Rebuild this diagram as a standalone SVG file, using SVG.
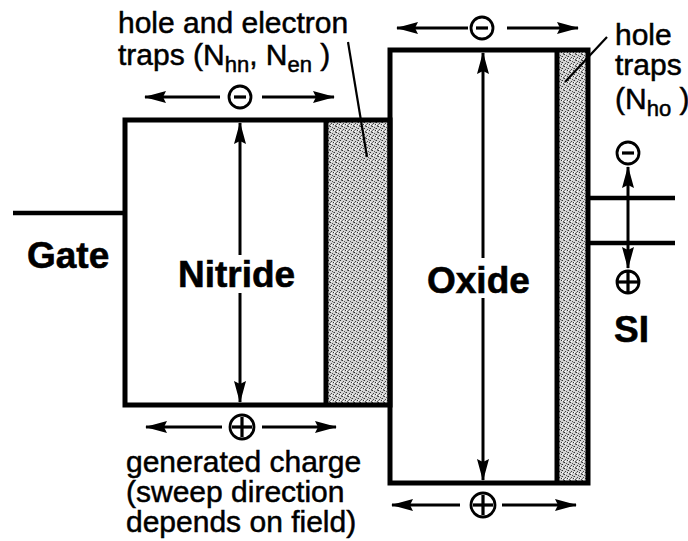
<svg xmlns="http://www.w3.org/2000/svg" width="688" height="541" viewBox="0 0 688 541">
<style>
.box{fill:none;stroke:#000;stroke-width:5}
.wire{stroke:#000;stroke-width:4.5;fill:none}
.arr{stroke:#000;stroke-width:3;fill:none}
.lead{stroke:#000;stroke-width:2.2;fill:none}
.chg{fill:#fff;stroke:#000;stroke-width:2.8}
.sign{stroke:#000;stroke-width:3.2}
.lbl{font-family:"Liberation Sans",Arial,sans-serif;font-size:30px;fill:#000;stroke:#000;stroke-width:0.5}
.name{font-family:"Liberation Sans",Arial,sans-serif;font-size:37px;font-weight:bold;fill:#000;stroke:#000;stroke-width:0.6}
.sub{font-size:22px}
</style>
<defs>
<pattern id="stip" width="6" height="6" patternUnits="userSpaceOnUse">
<rect width="6" height="6" fill="#d4d4d4"/>
<rect x="0" y="0" width="1" height="1" fill="#333"/>
<rect x="2" y="1" width="1" height="1" fill="#555"/>
<rect x="4" y="2" width="1" height="1" fill="#333"/>
<rect x="1" y="3" width="1" height="1" fill="#444"/>
<rect x="3" y="4" width="1" height="1" fill="#333"/>
<rect x="5" y="5" width="1" height="1" fill="#555"/>
<rect x="5" y="0" width="1" height="1" fill="#777"/>
<rect x="0" y="4" width="1" height="1" fill="#777"/>
<rect x="3" y="2" width="1" height="1" fill="#888"/>
<rect x="1" y="5" width="1" height="1" fill="#fff"/>
<rect x="4" y="4" width="1" height="1" fill="#fff"/>
</pattern>
<marker id="ah" viewBox="0 0 22 13" refX="21" refY="6.5" markerWidth="22" markerHeight="13" markerUnits="userSpaceOnUse" orient="auto-start-reverse">
<path d="M0,0.5 L22,6.5 L0,12.5 L3,6.5 Z" fill="#000"/>
</marker>
</defs>
<rect width="688" height="541" fill="#fff"/>

<g id="gate">
<line class="wire" x1="13" y1="213" x2="125" y2="213"/>
<text class="name" x="27" y="268">Gate</text>
</g>

<g id="nitride">
<rect x="326" y="120" width="64" height="285" fill="url(#stip)"/>
<rect class="box" x="125" y="120" width="265" height="285"/>
<line class="box" x1="326" y1="120" x2="326" y2="405"/>
<text class="name" x="178" y="287">Nitride</text>
</g>

<g id="oxide">
<rect x="557" y="50" width="31" height="433" fill="url(#stip)"/>
<rect class="box" x="390" y="50" width="198" height="433"/>
<line class="box" x1="557" y1="50" x2="557" y2="483"/>
<text class="name" x="427" y="293">Oxide</text>
</g>

<g id="si">
<line class="wire" x1="588" y1="198" x2="675" y2="198"/>
<line class="wire" x1="588" y1="243" x2="675" y2="243"/>
<text class="name" x="614" y="342">SI</text>
</g>

<g id="charges">
<circle class="chg" cx="240" cy="97" r="11"/><line class="sign" x1="234" y1="97" x2="246" y2="97"/>
<circle class="chg" cx="482" cy="28" r="11"/><line class="sign" x1="476" y1="28" x2="488" y2="28"/>
<circle class="chg" cx="242" cy="427" r="12"/><line class="sign" x1="242" y1="417" x2="242" y2="437"/><line class="sign" x1="232" y1="427" x2="252" y2="427"/>
<circle class="chg" cx="483" cy="505" r="12"/><line class="sign" x1="483" y1="495" x2="483" y2="515"/><line class="sign" x1="473" y1="505" x2="493" y2="505"/>
<circle class="chg" cx="628" cy="153" r="11"/><line class="sign" x1="622" y1="153" x2="634" y2="153"/>
<circle class="chg" cx="628" cy="282" r="11"/><line class="sign" x1="628" y1="272" x2="628" y2="292"/><line class="sign" x1="618" y1="282" x2="638" y2="282"/>
</g>

<g id="connectors">
<line class="arr" x1="220" y1="97" x2="145" y2="97" marker-end="url(#ah)"/>
<line class="arr" x1="262" y1="97" x2="334" y2="97" marker-end="url(#ah)"/>
<line class="arr" x1="468" y1="28" x2="397" y2="28" marker-end="url(#ah)"/>
<line class="arr" x1="507" y1="28" x2="578" y2="28" marker-end="url(#ah)"/>
<line class="arr" x1="222" y1="427" x2="146" y2="427" marker-end="url(#ah)"/>
<line class="arr" x1="262" y1="427" x2="336" y2="427" marker-end="url(#ah)"/>
<line class="arr" x1="460" y1="505" x2="392" y2="505" marker-end="url(#ah)"/>
<line class="arr" x1="502" y1="505" x2="576" y2="505" marker-end="url(#ah)"/>
<line class="arr" x1="240" y1="255" x2="240" y2="123" marker-end="url(#ah)"/>
<line class="arr" x1="240" y1="293" x2="240" y2="402" marker-end="url(#ah)"/>
<line class="arr" x1="483" y1="258" x2="483" y2="53" marker-end="url(#ah)"/>
<line class="arr" x1="483" y1="298" x2="483" y2="480" marker-end="url(#ah)"/>
<line class="arr" x1="628" y1="220" x2="628" y2="167" marker-end="url(#ah)"/>
<line class="arr" x1="628" y1="220" x2="628" y2="268" marker-end="url(#ah)"/>
<line class="lead" x1="348" y1="42" x2="367" y2="157"/>
<line class="lead" x1="607" y1="37" x2="565" y2="82"/>
</g>

<g id="labels">
<text class="lbl" x="118" y="33">hole and electron</text>
<text class="lbl" x="118" y="65">traps (N<tspan class="sub" dy="7">hn</tspan><tspan dy="-7">, N</tspan><tspan class="sub" dy="7">en</tspan><tspan dy="-7"> )</tspan></text>
<text class="lbl" x="615" y="45">hole</text>
<text class="lbl" x="615" y="75">traps</text>
<text class="lbl" x="615" y="109">(N<tspan class="sub" dy="7">ho</tspan><tspan dy="-7"> )</tspan></text>
<text class="lbl" x="126" y="472">generated charge</text>
<text class="lbl" x="126" y="502">(sweep direction</text>
<text class="lbl" x="126" y="532">depends on field)</text>
</g>
</svg>
